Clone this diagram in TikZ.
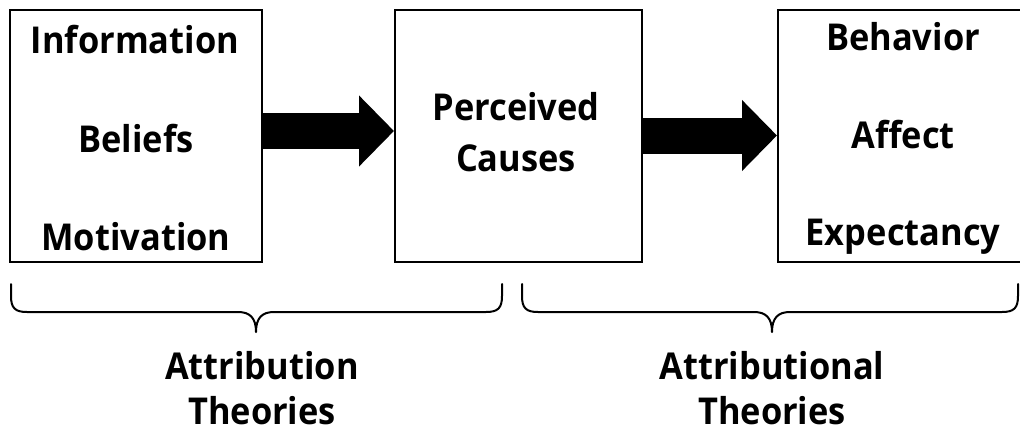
\documentclass[tikz,border=0pt]{standalone}
\usepackage{fontspec}
\setmainfont{Open Sans}[FakeStretch=0.93]
\usetikzlibrary{arrows.meta}

\tikzset{
  box/.style={draw, line width=2pt, minimum width=250pt, minimum height=252pt, inner sep=0pt},
  lbl/.style={font=\fontsize{37}{42}\selectfont\bfseries, anchor=base, inner sep=0pt},
  blockarrow/.style={line width=36pt, -{Triangle[length=35pt,width=69pt]}},
  bracket/.style={line width=2pt, line cap=round, line join=round}
}

\begin{document}
\begin{tikzpicture}[x=1pt,y=-1pt]
\useasboundingbox (0,0) rectangle (1020,431);
% boxes
\node[box, minimum width=252pt] (src) at (136,136) {};
\node[box, minimum width=247pt] (mid) at (518.5,136) {};
\node[box] (res) at (903,136) {};
% box texts
\node[lbl] (info) at (135,53) {Information};
\node[lbl] (beliefs) at (136,152) {Beliefs};
\node[lbl] (motiv) at (136,250) {Motivation};
\node[lbl] (perc) at (516,120) {Perceived};
\node[lbl] (caus) at (516,171) {Causes};
\node[lbl] (behav) at (903,50) {Behavior};
\node[lbl] (affect) at (903,148) {Affect};
\node[lbl] (expect) at (903,245) {Expectancy};
% arrows
\draw[blockarrow] ([yshift=5pt]src.east) -- ([yshift=5pt]mid.west);
\draw[blockarrow] ([yshift=0.5pt]mid.east) -- ([yshift=0.5pt]res.west);
% braces
\coordinate (b1l) at (11,284);
\coordinate (b1r) at (502,284);
\coordinate (b2l) at (522,284);
\coordinate (b2r) at (1018,284);
\draw[bracket] (b1l) -- (11,296) .. controls (11,308) and (15,312) .. (27,312)
  -- (238,312) .. controls (250,312) and (256,318) .. (256,332)
  .. controls (256,318) and (262,312) .. (274,312)
  -- (486,312) .. controls (498,312) and (502,308) .. (502,296) -- (b1r);
\draw[bracket] (b2l) -- (522,296) .. controls (522,308) and (526,312) .. (538,312)
  -- (754,312) .. controls (766,312) and (772,318) .. (772,332)
  .. controls (772,318) and (778,312) .. (790,312)
  -- (1002,312) .. controls (1014,312) and (1018,308) .. (1018,296) -- (b2r);
% labels
\node[lbl] (attr1) at (262,379) {Attribution};
\node[lbl] (theo1) at (262,424) {Theories};
\node[lbl] (attr2) at (772,379) {Attributional};
\node[lbl] (theo2) at (772,424) {Theories};
\end{tikzpicture}
\end{document}
